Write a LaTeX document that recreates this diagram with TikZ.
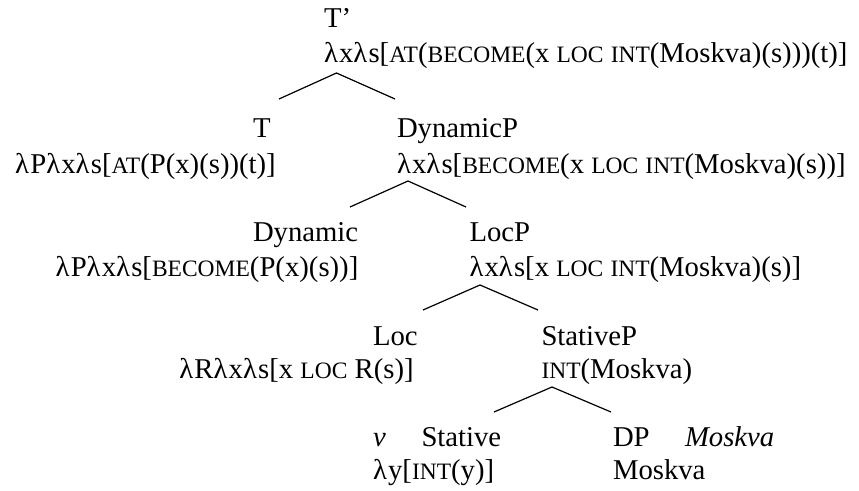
\documentclass[tikz,border=0pt]{standalone}
\usepackage{fontspec}
\setmainfont{Liberation Serif}
% faked small capitals, as in the semantic formulas
\newcommand{\smc}[1]{{\fontsize{23.5}{27}\selectfont #1}}
% lambda with a little extra room after it
\newcommand{\lm}{λ\kern1.2pt}
\begin{document}
\begin{tikzpicture}[x=1pt,y=-1pt,
  lbl/.style={anchor=base west,inner sep=0pt,outer sep=0pt,
              font=\fontsize{28.7}{34}\selectfont},
  lblc/.style={lbl,anchor=base},
  branch/.style={line width=1.2pt}]
\useasboundingbox (0,0) rectangle (859,490);

% T'
\node[lbl] (Tp)    at (324,27) {T’};
\node[lbl] (Tpsem) at (324,62)
  {\lm x\lm s[\smc{AT}(\smc{BECOME}(x \smc{LOC} \smc{INT}(Moskva)(s)))(t)]};

% T and DynamicP
\node[lbl]  (T)       at (253,137)   {T};
\node[lblc] (Tsem)    at (145.5,173) {\lm P\lm x\lm s[\smc{AT}(P(x)(s))(t)]};
\node[lbl]  (dynP)    at (397,137)   {DynamicP};
\node[lbl]  (dynPsem) at (397,173)
  {\lm x\lm s[\smc{BECOME}(x \smc{LOC} \smc{INT}(Moskva)(s))]};

% Dynamic and LocP
\node[lbl]  (dyn)     at (253,241.5)   {Dynamic};
\node[lblc] (dynsem)  at (207,276.5)   {\lm P\lm x\lm s[\smc{BECOME}(P(x)(s))]};
\node[lbl]  (locP)    at (469.5,241.5) {LocP};
\node[lbl]  (locPsem) at (469.5,276.5) {\lm x\lm s[x \smc{LOC} \smc{INT}(Moskva)(s)]};

% Loc and StativeP
\node[lbl]  (loc)    at (373,345)   {Loc};
\node[lblc] (locsem) at (296.5,378) {\lm R\lm x\lm s[x \smc{LOC} R(s)]};
\node[lbl]  (stP)    at (541.5,345) {StativeP};
\node[lbl]  (stPsem) at (541.5,378) {\smc{INT}(Moskva)};

% Stative and DP
\node[lbl] (v)     at (373,446)   {\itshape v};
\node[lbl] (st)    at (421.5,446) {Stative};
\node[lbl] (stsem) at (373,479)   {\lm y[\smc{INT}(y)]};
\node[lbl] (dp)    at (613,446)   {DP};
\node[lbl] (mosk)  at (685,446)   {\itshape Moskva};
\node[lbl] (dpsem) at (613,479)   {Moskva};

% branching points
\coordinate (b1) at (336.5,73);  \coordinate (b1l) at (279,99);  \coordinate (b1r) at (395,99);
\coordinate (b2) at (408,181);   \coordinate (b2l) at (350,207); \coordinate (b2r) at (466,207);
\coordinate (b3) at (480,285);   \coordinate (b3l) at (423,310); \coordinate (b3r) at (538,310);
\coordinate (b4) at (552,387);   \coordinate (b4l) at (494,412); \coordinate (b4r) at (611,412);

\draw[branch] (b1l) -- (b1) -- (b1r);
\draw[branch] (b2l) -- (b2) -- (b2r);
\draw[branch] (b3l) -- (b3) -- (b3r);
\draw[branch] (b4l) -- (b4) -- (b4r);
\end{tikzpicture}
\end{document}
